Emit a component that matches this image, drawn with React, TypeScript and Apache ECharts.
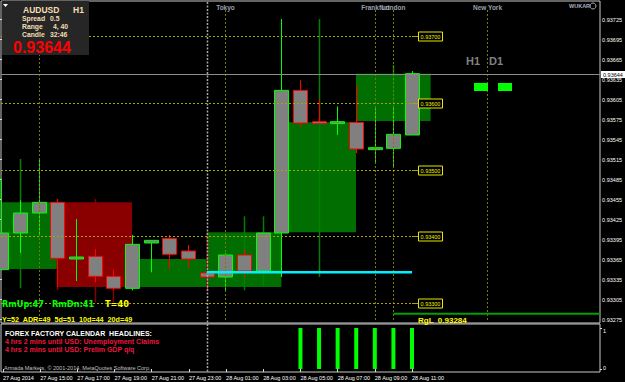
import React, { useEffect, useRef } from "react";
import * as echarts from "echarts";

// ---------------- data ----------------
const barTimes = [
  "27 Aug 2014", "27 Aug 14:00", "27 Aug 15:00", "27 Aug 16:00", "27 Aug 17:00", "27 Aug 18:00",
  "27 Aug 19:00", "27 Aug 20:00", "27 Aug 21:00", "27 Aug 22:00", "27 Aug 23:00", "28 Aug 00:00",
  "28 Aug 01:00", "28 Aug 02:00", "28 Aug 03:00", "28 Aug 04:00", "28 Aug 05:00", "28 Aug 06:00",
  "28 Aug 07:00", "28 Aug 08:00", "28 Aug 09:00", "28 Aug 10:00", "28 Aug 11:00",
];
const barOpen = [0.9335, 0.93405, 0.93435, 0.93451, 0.93366, 0.9337, 0.9334, 0.93322, 0.9339, 0.93397, 0.93378, 0.93345, 0.93339, 0.93372, 0.93348, 0.93405, 0.93619, 0.93572, 0.93571, 0.93571, 0.93531, 0.93532, 0.93552];
const barClose = [0.93405, 0.93435, 0.93451, 0.93367, 0.93369, 0.9334, 0.93322, 0.93388, 0.93394, 0.93373, 0.93366, 0.93339, 0.93372, 0.93348, 0.93405, 0.93619, 0.9357, 0.93571, 0.93572, 0.93531, 0.93533, 0.93553, 0.93644];
const barHigh = [0.93487, 0.93454, 0.93516, 0.93456, 0.93426, 0.93381, 0.9335, 0.93402, 0.93394, 0.93402, 0.93387, 0.93369, 0.93375, 0.93381, 0.93405, 0.93726, 0.93634, 0.93606, 0.93595, 0.93627, 0.93592, 0.93594, 0.93648];
const barLow = [0.9335, 0.93375, 0.93402, 0.93324, 0.93333, 0.93331, 0.93319, 0.93319, 0.93346, 0.93351, 0.93352, 0.93319, 0.93319, 0.93337, 0.93348, 0.93339, 0.93564, 0.93571, 0.93552, 0.93525, 0.9351, 0.93505, 0.93552];

// darker shadow lines drawn behind some bars
const shadowBars = [1, 3, 5, 6, 11, 13, 14, 17, 21];
const shadowHigh = [0.93516, 0.93456, 0.93456, 0.9335, 0.93405, 0.9343, 0.9343, 0.93726, 0.93657];
const shadowLow = [0.93322, 0.93319, 0.93301, 0.93301, 0.93319, 0.93319, 0.93325, 0.93339, 0.9357];
const shadowDir = ["up", "down", "down", "down", "down", "up", "up", "up", "up"];

// 4-hour blocks
const blockStart = [-1, 3, 7, 11, 15, 19];
const blockEnd = [3, 7, 11, 15, 19, 23];
const blockOpen = [0.93351, 0.93451, 0.93324, 0.93324, 0.93406, 0.93573];
const blockClose = [0.93451, 0.93324, 0.93366, 0.93406, 0.93571, 0.93644];

const roundLevels = [0.937, 0.936, 0.935, 0.934, 0.933];
const sessionNames = ["New York", "Tokyo", "Frankfurt", "London", "New York"];
const sessionBars = [2, 12, 20, 21, 26];
const daySeparatorBars = [11];

const asiaLowPrice = 0.93346;
const asiaLowFrom = 11;
const asiaLowTo = 22;
const rangeLowPrice = 0.93284;
const rangeLowFrom = 21;
const bidPrice = 0.93644;

const priceTickMin = 0.93275;
const priceTickMax = 0.93725;
const priceTickStep = 0.0003;

const newsSignal = [0, 0, 0, 0, 0, 0, 0, 0, 0, 0, 0, 0, 0, 0, 0, 0, 1, 1, 1, 1, 1, 1, 1];

const infoSymbol = "AUDUSD";
const infoPeriod = "H1";
const infoRows = [["Spread", "0.5"], ["Range", "4, 40"], ["Candle", "32:46"]];
const rangeTexts = ["RmUp:47", "RmDn:41", "T=40"];
const adrText = "Y=52  ADR=49  5d=51  10d=44  20d=49";
const newsHeader = "FOREX FACTORY CALENDAR  HEADLINES:";
const newsLines = ["4 hrs 2 mins until USD: Unemployment Claims", "4 hrs 2 mins until USD: Prelim GDP q/q"];
const copyright = "Armada Markets, \u00a9 2001-2014, MetaQuotes Software Corp.";

// ---------------- layout ----------------
const W = 625;
const H = 382;
const BAR_PX = 18.668;
const FIRST_BAR_X = 1.3;
const MAIN_LEFT = 1;
const MAIN_TOP = 1;
const MAIN_W = 599;
const MAIN_H = 322;
const PRICE_PER_PX = 0.000015;
const Y_MAX = 0.93753;
const Y_MIN = Y_MAX - MAIN_H * PRICE_PER_PX;
const X_MIN = -(FIRST_BAR_X - MAIN_LEFT) / BAR_PX;
const X_MAX = X_MIN + MAIN_W / BAR_PX;
const INFO_BOX_RIGHT = 89;

const FONT = '"Liberation Sans", Arial, sans-serif';
const WIDE_FONT = '"DejaVu Sans", Verdana, sans-serif';
const GREEN_BOX = "#006e00";
const RED_BOX = "#8a0000";

function txt(x: number, y: number, text: string, color: string, size: number, bold = true, family = FONT) {
  return {
    type: "text",
    z: 50,
    style: {
      x, y, text, fill: color,
      font: `${bold ? "bold " : ""}${size}px ${family}`,
      textAlign: "left", textVerticalAlign: "middle",
    },
  };
}

export default function App() {
  const ref = useRef<HTMLDivElement>(null);

  useEffect(() => {
    document.body.style.margin = "0";
    document.body.style.background = "#000";
    if (!ref.current) return;
    const chart = echarts.init(ref.current, null, { renderer: "svg" });

    const candleData = barOpen.map((o, i) => [i, o, barClose[i], barHigh[i], barLow[i]]);
    const shadowData = shadowBars.map((b, k) => [b, shadowHigh[k], shadowLow[k]]);
    const blockData = blockStart.map((s, k) => [s, blockEnd[k], blockOpen[k], blockClose[k]]);

    const labelGridTop = MAIN_TOP + (Y_MAX - priceTickMax) / PRICE_PER_PX;
    const labelGridH = (priceTickMax - priceTickMin) / PRICE_PER_PX;
    const subLeft = FIRST_BAR_X;
    const subW = BAR_PX * (barTimes.length - 1);

    const option: any = {
      animation: false,
      backgroundColor: "#000",
      textStyle: { fontFamily: FONT },
      grid: [
        { left: MAIN_LEFT, top: MAIN_TOP, width: MAIN_W, height: MAIN_H, show: true, borderColor: "#c8c8c8", borderWidth: 1, backgroundColor: "transparent" },
        { left: 0, top: labelGridTop, width: 600, height: labelGridH, show: false },
        { left: 1, top: 324, width: 599, height: 48, show: true, borderColor: "#c8c8c8", borderWidth: 1, backgroundColor: "transparent" },
        { left: subLeft, top: 328, width: subW, height: 41, show: false },
      ],
      xAxis: [
        { type: "value", gridIndex: 0, min: X_MIN, max: X_MAX, show: false },
        { type: "value", gridIndex: 1, min: 0, max: 1, show: false },
        { type: "value", gridIndex: 2, min: 0, max: 1, show: false },
        {
          type: "category", gridIndex: 3, data: barTimes, boundaryGap: false, offset: 3,
          axisLine: { show: false },
          axisTick: { show: true, length: 3, interval: (i: number) => i % 2 === 0, lineStyle: { color: "#ddd" } },
          axisLabel: { interval: (i: number) => i % 2 === 0, align: "left", color: "#fff", fontSize: 5.5, margin: 3, fontFamily: FONT },
          splitLine: { show: false },
        },
      ],
      yAxis: [
        { type: "value", gridIndex: 0, min: Y_MIN, max: Y_MAX, show: false },
        {
          type: "value", gridIndex: 1, position: "right", min: priceTickMin, max: priceTickMax, interval: priceTickStep,
          axisLine: { show: false },
          axisTick: { show: true, length: 2, lineStyle: { color: "#ddd" } },
          axisLabel: { color: "#fff", fontSize: 5.5, margin: 3, fontFamily: FONT, formatter: (v: number) => v.toFixed(5) },
          splitLine: { show: false },
        },
        { type: "value", gridIndex: 2, min: 0, max: 1, show: false },
        {
          type: "value", gridIndex: 3, position: "right", offset: 600 - subLeft - subW, min: 0, max: 1, interval: 1,
          axisLine: { show: false },
          axisTick: { show: true, length: 2, lineStyle: { color: "#ddd" } },
          axisLabel: {
            margin: 3,
            formatter: (v: number) => (v >= 1 ? "{a|1}" : "{b|0}"),
            rich: {
              a: { color: "#fff", fontSize: 5.5, fontFamily: FONT, padding: [6, 0, 0, 0] },
              b: { color: "#fff", fontSize: 5.5, fontFamily: FONT, padding: [0, 0, 2, 0] },
            },
          },
          splitLine: { show: false },
        },
      ],
      series: [
        {
          type: "custom", xAxisIndex: 0, yAxisIndex: 0, z: 1, silent: true, clip: true,
          data: blockData,
          renderItem: (params: any, api: any) => {
            const p1 = api.coord([api.value(0), api.value(2)]);
            const p2 = api.coord([api.value(1), api.value(3)]);
            const up = api.value(3) >= api.value(2);
            return {
              type: "rect",
              shape: { x: Math.min(p1[0], p2[0]), y: Math.min(p1[1], p2[1]), width: Math.abs(p2[0] - p1[0]), height: Math.abs(p2[1] - p1[1]) },
              style: { fill: up ? GREEN_BOX : RED_BOX },
            };
          },
        },
        {
          type: "custom", xAxisIndex: 0, yAxisIndex: 0, z: 2, silent: true,
          data: shadowData,
          renderItem: (params: any, api: any) => {
            const a = api.coord([api.value(0), api.value(1)]);
            const b = api.coord([api.value(0), api.value(2)]);
            const up = shadowDir[params.dataIndex] === "up";
            return {
              type: "line",
              shape: { x1: Math.round(a[0]) + 0.5, y1: a[1], x2: Math.round(a[0]) + 0.5, y2: b[1] },
              style: { stroke: up ? "#008000" : "#8a0000", lineWidth: 1.5 },
            };
          },
        },
        {
          type: "custom", xAxisIndex: 0, yAxisIndex: 0, z: 3, silent: true,
          data: candleData,
          renderItem: (params: any, api: any) => {
            const i = api.value(0);
            const o = api.value(1), c = api.value(2), h = api.value(3), l = api.value(4);
            const up = c >= o;
            const x = Math.round(api.coord([i, o])[0]) + 0.5;
            const yo = api.coord([i, o])[1];
            const yc = api.coord([i, c])[1];
            const yh = api.coord([i, h])[1];
            const yl = api.coord([i, l])[1];
            const top = Math.min(yo, yc);
            const bot = Math.max(yo, yc);
            const col = up ? "#00ff00" : "#ff0000";
            const w = 14;
            return {
              type: "group",
              children: [
                { type: "line", shape: { x1: x, y1: yh, x2: x, y2: yl }, style: { stroke: col, lineWidth: 1 } },
                { type: "rect", shape: { x: x - w / 2, y: top, width: w, height: Math.max(bot - top, 2) }, style: { fill: "#808080", stroke: col, lineWidth: 1 } },
              ],
            };
          },
        },
        {
          type: "custom", xAxisIndex: 0, yAxisIndex: 0, z: 4, silent: true, clip: false,
          data: daySeparatorBars.map((b) => [b, Y_MAX]),
          renderItem: (params: any, api: any) => {
            const x = Math.round(api.coord([api.value(0), Y_MAX])[0]) + 0.5;
            const cs = params.coordSys;
            return {
              type: "line",
              shape: { x1: x, y1: cs.y + 1, x2: x, y2: 372 },
              style: { stroke: "#a8a8a8", lineWidth: 1.5, lineDash: [2, 1.5] },
            };
          },
        },
        {
          type: "custom", xAxisIndex: 0, yAxisIndex: 0, z: 4, silent: true, clip: false,
          data: sessionBars.map((b) => [b, Y_MAX]),
          renderItem: (params: any, api: any) => {
            const x = Math.round(api.coord([api.value(0), Y_MAX])[0]) + 0.5;
            const cs = params.coordSys;
            const children: any[] = [
              { type: "line", shape: { x1: x, y1: 10, x2: x, y2: cs.y + cs.height }, style: { stroke: "#7a7a00", lineWidth: 1, lineDash: [2, 2] } },
            ];
            // the label of a session under the info panel is hidden by it
            if (x > INFO_BOX_RIGHT + 20) {
              children.push({
                type: "text",
                style: { x, y: 7, text: sessionNames[params.dataIndex], fill: "#98a0ac", font: `bold 6.5px ${FONT}`, textAlign: "center", textVerticalAlign: "middle" },
              });
            }
            return { type: "group", children };
          },
        },
        {
          type: "custom", xAxisIndex: 0, yAxisIndex: 0, z: 5, silent: true, clip: false,
          data: roundLevels.map((p) => [asiaLowTo, p]),
          renderItem: (params: any, api: any) => {
            const p = api.value(1);
            const pt = api.coord([api.value(0), p]);
            const y = Math.round(pt[1]) + 0.5;
            const xe = Math.round(pt[0]);
            const cs = params.coordSys;
            return {
              type: "group",
              children: [
                { type: "line", shape: { x1: cs.x, y1: y, x2: xe, y2: y }, style: { stroke: "#a6a600", lineWidth: 1, lineDash: [2, 2] } },
                { type: "line", shape: { x1: xe, y1: y, x2: xe + 6, y2: y }, style: { stroke: "#a6a600", lineWidth: 1 } },
                { type: "rect", shape: { x: xe + 6.5, y: y - 4.5, width: 24, height: 9 }, style: { fill: "#000", stroke: "#e6e600", lineWidth: 1 } },
                { type: "text", style: { x: xe + 18.5, y: y + 0.5, text: p.toFixed(5), fill: "#f0f000", font: `5.5px ${FONT}`, textAlign: "center", textVerticalAlign: "middle" } },
              ],
            };
          },
        },
        {
          // bid line and its price tag on the axis
          type: "custom", xAxisIndex: 0, yAxisIndex: 0, z: 7, silent: true, clip: false,
          data: [[X_MAX, bidPrice]],
          renderItem: (params: any, api: any) => {
            const p = api.value(1);
            const y = Math.round(api.coord([api.value(0), p])[1]) + 0.5;
            const cs = params.coordSys;
            const xr = cs.x + cs.width;
            return {
              type: "group",
              children: [
                { type: "line", shape: { x1: cs.x, y1: y, x2: xr, y2: y }, style: { stroke: "#8c8c8c", lineWidth: 1 } },
                { type: "rect", shape: { x: xr + 1, y: y - 3.5, width: 24, height: 7 }, style: { fill: "#ffffff" } },
                { type: "text", style: { x: xr + 3, y: y + 0.3, text: p.toFixed(5), fill: "#000", font: `5.5px ${FONT}`, textAlign: "left", textVerticalAlign: "middle" } },
              ],
            };
          },
        },
        {
          type: "line", xAxisIndex: 0, yAxisIndex: 0, z: 6, silent: true, symbol: "none",
          data: [[asiaLowFrom, asiaLowPrice], [asiaLowTo, asiaLowPrice]],
          lineStyle: { color: "#00f0ff", width: 2.5 },
        },
        {
          type: "line", xAxisIndex: 0, yAxisIndex: 0, z: 6, silent: true, symbol: "none",
          data: [[rangeLowFrom, rangeLowPrice], [X_MAX, rangeLowPrice]],
          lineStyle: { color: "#00a000", width: 2 },
        },
        {
          type: "bar", xAxisIndex: 3, yAxisIndex: 3, silent: true, barWidth: 4,
          data: newsSignal, itemStyle: { color: "#00ff00" },
        },
      ],
      graphic: [
        { type: "rect", z: 40, shape: { x: 2, y: 1, width: 87, height: 54 }, style: { fill: "#262626" } },
        { type: "polygon", z: 41, shape: { points: [[3, 4], [8, 4], [5.5, 7]] }, style: { fill: "#ffffff" } },
        txt(23, 9.5, infoSymbol, "#f5deb3", 8.5),
        txt(73, 9.5, infoPeriod, "#f5deb3", 8.5),
        ...infoRows.flatMap((r, k) => [txt(22, 18 + k * 8, r[0], "#f5deb3", 6.8), txt(k === 1 ? 53 : 50, 18 + k * 8, r[1], "#f5deb3", 6.8)]),
        txt(13, 47, bidPrice.toFixed(5), "#ff0000", 16),
        txt(466, 61, "H1", "#808080", 11),
        txt(489, 61, "D1", "#808080", 11),
        { type: "rect", z: 40, shape: { x: 474, y: 83, width: 14, height: 8 }, style: { fill: "#00ff00" } },
        { type: "rect", z: 40, shape: { x: 498, y: 83, width: 14, height: 8 }, style: { fill: "#00ff00" } },
        txt(569, 6, "WUKAR", "#a8b0c0", 5.5),
        { type: "circle", z: 40, shape: { cx: 593, cy: 6, r: 3 }, style: { fill: "none", stroke: "#a8b0c0", lineWidth: 1 } },
        txt(2, 304, rangeTexts[0], "#00ff00", 8.2, true, WIDE_FONT),
        txt(52, 304, rangeTexts[1], "#00ff00", 8.2, true, WIDE_FONT),
        txt(105, 304, rangeTexts[2], "#ffff00", 8.2, true, WIDE_FONT),
        txt(2, 319.5, adrText, "#ffff00", 7.2),
        txt(418, 320, `RgL  ${rangeLowPrice.toFixed(5)}`, "#ffff00", 8),
        txt(5, 333, newsHeader, "#ffffff", 7),
        txt(5, 341.5, newsLines[0], "#f0143c", 7),
        txt(5, 349.5, newsLines[1], "#f0143c", 7),
        txt(4, 367.5, copyright, "#c0c0c0", 5.5, false),
      ],
    };

    chart.setOption(option);
    return () => chart.dispose();
  }, []);

  return <div ref={ref} style={{ width: W, height: H, position: "fixed", left: 0, top: 0, background: "#000" }} />;
}
